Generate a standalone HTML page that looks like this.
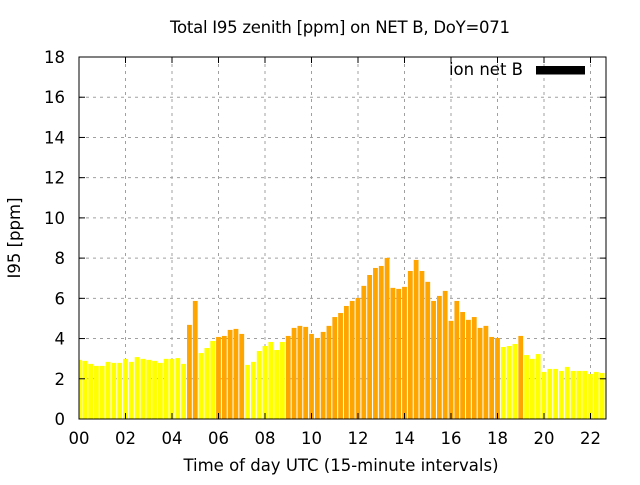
<!DOCTYPE html>
<html><head><meta charset="utf-8"><style>
body{margin:0;background:#fff;}
svg text{font-family:"DejaVu Sans","Liberation Sans",sans-serif;font-size:16.5px;fill:#000;}
</style></head><body>
<svg id="chart" width="640" height="480" viewBox="0 0 640 480" xmlns="http://www.w3.org/2000/svg">
<text x="340" y="33" text-anchor="middle" textLength="340">Total I95 zenith [ppm] on NET B, DoY=071</text>
<text x="341" y="471" text-anchor="middle">Time of day UTC (15-minute intervals)</text>
<text transform="translate(20,238) rotate(-90)" text-anchor="middle">I95 [ppm]</text>
<g id="grid"></g><g id="bars"></g><g id="axes"></g>
<g>
<text x="523" y="75" text-anchor="end">ion net B</text>
<rect x="536" y="66" width="49" height="8.5" fill="#000"></rect>
</g>
</svg>
<script>
const values=[2.94,2.89,2.74,2.64,2.64,2.84,2.79,2.79,2.99,2.84,3.08,2.99,2.94,2.89,2.79,2.99,2.99,3.03,2.74,4.68,5.87,3.28,3.53,3.88,4.08,4.13,4.43,4.48,4.23,2.69,2.84,3.38,3.63,3.83,3.43,3.83,4.13,4.53,4.63,4.58,4.23,4.03,4.33,4.63,5.07,5.27,5.62,5.87,6.02,6.62,7.16,7.51,7.61,8.01,6.52,6.47,6.57,7.36,7.91,7.36,6.82,5.87,6.12,6.37,4.88,5.87,5.32,4.93,5.07,4.53,4.63,4.08,4.03,3.58,3.63,3.73,4.13,3.18,2.99,3.23,2.34,2.49,2.49,2.39,2.59,2.39,2.39,2.39,2.24,2.34,2.29,2.39];
const yTicks=[0,2,4,6,8,10,12,14,16,18];
const xTicks=[0,2,4,6,8,10,12,14,16,18,20,22];
const threshold=4;
const L=79,R=606,T=57,B=419,hourPx=23.25;
const xs=h=>L+h*hourPx;
const ys=v=>B-(v/18)*(B-T);
const NS="http://www.w3.org/2000/svg";
function mk(tag,attrs,parent){const e=document.createElementNS(NS,tag);for(const k in attrs)e.setAttribute(k,attrs[k]);parent.appendChild(e);return e;}
const grid=document.getElementById('grid'),bars=document.getElementById('bars'),axes=document.getElementById('axes');
yTicks.forEach(t=>{const y=ys(t);
 if(t>0&&t<18){const g=mk('line',{x1:L,x2:R,y1:y,y2:y,stroke:'#a0a0a0','stroke-dasharray':'3,4'},grid);
 
 }
 const tx=mk('text',{x:65,y:y+6,'text-anchor':'end'},axes);tx.textContent=t;
 
 
 mk('line',{x1:L,x2:L+6,y1:y,y2:y,stroke:'#000'},axes);
 mk('line',{x1:R,x2:R-6,y1:y,y2:y,stroke:'#000'},axes);
});
xTicks.forEach(t=>{const x=xs(t);
 if(t>0){const g=mk('line',{x1:x,x2:x,y1:T,y2:B,stroke:'#a0a0a0','stroke-dasharray':'3,4'},grid);
 
 }
 const tx=mk('text',{x:x,y:444,'text-anchor':'middle'},axes);tx.textContent=(t<10?'0':'')+t;
 
 
 mk('line',{x1:x,x2:x,y1:B,y2:B-6,stroke:'#000'},axes);
 mk('line',{x1:x,x2:x,y1:T,y2:T+6,stroke:'#000'},axes);
});
values.forEach((v,i)=>{const cx=xs(i*0.25);const w=4.8;
 let x0=cx-w/2,x1=Math.min(cx+w/2,R);x0=Math.max(x0,L);
 const r=mk('rect',{x:x0,y:ys(v),width:Math.max(0,x1-x0),height:B-ys(v),fill:v>=threshold?'#ffa500':'#ffff00'},bars);
 
 
});
const fr=mk('rect',{x:L,y:T,width:R-L,height:B-T,fill:'none',stroke:'#000'},axes);


</script>
</body></html>
